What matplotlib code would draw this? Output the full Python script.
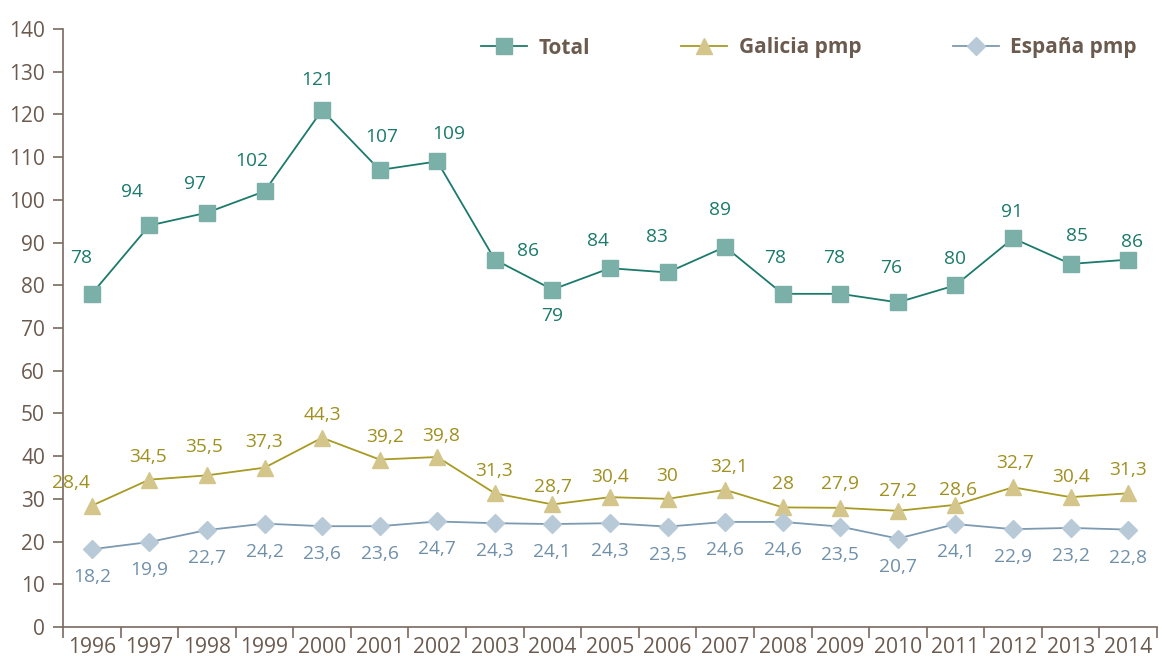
import matplotlib
matplotlib.use("Agg")
import matplotlib.pyplot as plt
from matplotlib.ticker import MultipleLocator, FixedLocator

years = ["1996", "1997", "1998", "1999", "2000", "2001", "2002", "2003", "2004", "2005",
         "2006", "2007", "2008", "2009", "2010", "2011", "2012", "2013", "2014"]
total = [78, 94, 97, 102, 121, 107, 109, 86, 79, 84, 83, 89, 78, 78, 76, 80, 91, 85, 86]
galicia = [28.4, 34.5, 35.5, 37.3, 44.3, 39.2, 39.8, 31.3, 28.7, 30.4, 30, 32.1, 28, 27.9,
           27.2, 28.6, 32.7, 30.4, 31.3]
espana = [18.2, 19.9, 22.7, 24.2, 23.6, 23.6, 24.7, 24.3, 24.1, 24.3, 23.5, 24.6, 24.6, 23.5,
          20.7, 24.1, 22.9, 23.2, 22.8]
series_names = ["Total", "Galicia pmp", "España pmp"]

# label offsets in pixels (dx, dy)
total_off = [(-11, 36), (-17, 33), (-12, 29), (-13, 30), (-4, 30), (2, 33), (11, 27), (33, 9),
             (0, -26), (-12, 27), (-11, 35), (-5, 37), (-8, 36), (-6, 36), (-7, 34), (0, 26),
             (-1, 26), (6, 28), (4, 18)]
gal_off = [(-21, 23), (-1, 23), (-3, 28), (0, 26), (0, 23), (5, 23), (4, 21), (-1, 22), (1, 17),
           (0, 20), (0, 23), (4, 23), (0, 23), (0, 24), (0, 20), (3, 15), (2, 24), (0, 20), (0, 23)]
esp_off = [(0, -28)] * len(years)

plt.rcParams['font.family'] = ['Open Sans', 'DejaVu Sans']

brown = "#6b5a4e"
spine_c = "#7a6a60"
c_tot_line, c_tot_mark, c_tot_txt = "#1c7a6c", "#7ab0a8", "#1c7a6c"
c_gal_line, c_gal_mark, c_gal_txt = "#a89a22", "#d4c68a", "#a09020"
c_esp_line, c_esp_mark, c_esp_txt = "#7c9ab2", "#b8c9d8", "#7090aa"

fig = plt.figure(figsize=(11.62, 6.56), dpi=100)
ax = fig.add_axes([63 / 1162, 29 / 656, (1157 - 63) / 1162, (627 - 29) / 656])

x = list(range(len(years)))
ax.plot(x, total, color=c_tot_line, lw=1.3, marker='s', ms=11, mfc=c_tot_mark, mec=c_tot_mark,
        label=series_names[0], zorder=3)
ax.plot(x, galicia, color=c_gal_line, lw=1.3, marker='^', ms=12, mfc=c_gal_mark, mec=c_gal_mark,
        label=series_names[1], zorder=3)
ax.plot(x, espana, color=c_esp_line, lw=1.3, marker='D', ms=9, mfc=c_esp_mark, mec=c_esp_mark,
        label=series_names[2], zorder=3)

def fmt(v):
    return f"{v:g}".replace('.', ',')

for vals, offs, col in [(total, total_off, c_tot_txt), (galicia, gal_off, c_gal_txt),
                        (espana, esp_off, c_esp_txt)]:
    for i, (v, (dx, dy)) in enumerate(zip(vals, offs)):
        ax.annotate(fmt(v), (i, v), xytext=(dx, dy), textcoords='offset pixels',
                    ha='center', va='center', fontsize=13.8, color=col)

ax.set_xlim(-0.5, len(years) - 0.5)
ax.set_ylim(0, 140)
ax.yaxis.set_major_locator(MultipleLocator(10))
ax.set_xticks(x)
ax.set_xticklabels(years)
ax.xaxis.set_minor_locator(FixedLocator([i - 0.5 for i in range(len(years) + 1)]))
ax.tick_params(axis='x', which='major', length=0, pad=7, labelsize=15.2, colors=brown)
ax.tick_params(axis='x', which='minor', length=8, width=1.2, color=spine_c, direction='out')
ax.tick_params(axis='y', which='major', length=7, width=1.2, color=spine_c, pad=6,
               labelsize=15, labelcolor=brown)
for s in ['top', 'right']:
    ax.spines[s].set_visible(False)
for s in ['left', 'bottom']:
    ax.spines[s].set_color(spine_c)
    ax.spines[s].set_linewidth(1.2)

leg = ax.legend(loc='center', bbox_to_anchor=(809 / 1162, 1 - 48 / 656),
                bbox_transform=fig.transFigure, ncol=3, frameon=False,
                handlelength=2.2, handletextpad=0.55, columnspacing=4.4,
                prop={'weight': 'bold', 'size': 15})
for t in leg.get_texts():
    t.set_color(brown)

fig.savefig("out.png", dpi=100)
